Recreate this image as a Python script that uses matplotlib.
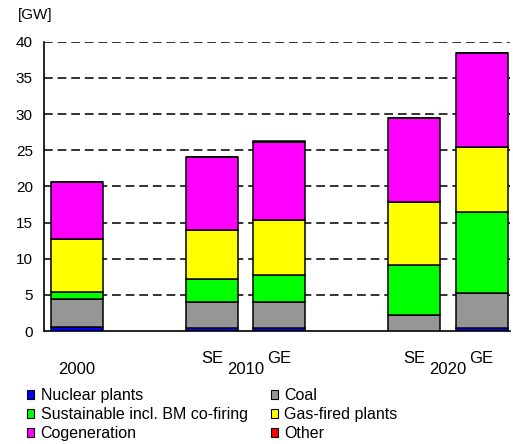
import matplotlib
matplotlib.use("Agg")
import matplotlib.pyplot as plt
from matplotlib.patches import Patch

plt.rcParams['font.family'] = ['Liberation Sans', 'DejaVu Sans']

# ---- data ----
categories = ["2000", "SE 2010", "GE 2010", "SE 2020", "GE 2020"]
scenarios = ["", "SE", "GE", "SE", "GE"]
years = ["2000", "2010", "2020"]
nuclear = [0.5, 0.4, 0.4, 0.0, 0.45]
coal = [3.9, 3.6, 3.6, 2.2, 4.85]
sustainable = [0.95, 3.2, 3.8, 6.95, 11.1]
gas = [7.35, 6.75, 7.5, 8.75, 9.0]
cogeneration = [7.9, 10.15, 10.8, 11.5, 13.0]
other = [0.0, 0.0, 0.2, 0.0, 0.0]
series_names = ["Nuclear plants", "Coal", "Sustainable incl. BM co-firing",
                "Gas-fired plants", "Cogeneration", "Other"]
yticks = [0, 5, 10, 15, 20, 25, 30, 35, 40]

# ---- layout ----
positions = [0, 2, 3, 5, 6]
year_pos = [0, 2.5, 5.5]
colors = ["#0000ff", "#969696", "#00ff00", "#ffff00", "#ff00ff", "#ff0000"]

fig = plt.figure(figsize=(5.13, 4.44), dpi=100)
ax = fig.add_axes([44/513, (444-331)/444, (510-44)/513, (331-41.7)/444])

series = [nuclear, coal, sustainable, gas, cogeneration, other]
bottom = [0.0]*len(categories)
for vals, col in zip(series, colors):
    ax.bar(positions, vals, width=0.77, bottom=bottom, color=col,
           edgecolor="black", linewidth=1.1, zorder=3)
    bottom = [b + v for b, v in zip(bottom, vals)]

ax.set_xlim(-0.49, 6.42)
ax.set_ylim(0, 40)
ax.set_yticks(yticks)
ax.set_yticklabels([str(t) for t in yticks], fontsize=11)
ax.tick_params(axis='y', length=0, pad=8)
ax.set_xticks([])
for y in yticks[1:]:
    ax.axhline(y, color="#333333", linewidth=1.4, linestyle=(0, (4.5, 2.5)), zorder=1)
for s in ["top", "right"]:
    ax.spines[s].set_visible(False)
ax.spines["left"].set_linewidth(1.2)
ax.spines["bottom"].set_linewidth(1.2)

# x labels
for p, s in zip(positions, scenarios):
    if s:
        ax.annotate(s, xy=(p, 0), xycoords=('data', 'axes fraction'),
                    xytext=(0, -19.5), textcoords='offset points',
                    ha='center', va='center', fontsize=12)
for p, yl in zip(year_pos, years):
    ax.annotate(yl, xy=(p, 0), xycoords=('data', 'axes fraction'),
                xytext=(0, -28), textcoords='offset points',
                ha='center', va='center', fontsize=12)

fig.text(35/513, 1 - 15/444, "[GW]", ha='center', va='center', fontsize=11)

# legend
handles = [Patch(facecolor=c, edgecolor="black", linewidth=0.8) for c in colors]
order = [0, 2, 4, 1, 3, 5]
fig.legend([handles[i] for i in order], [series_names[i] for i in order],
           ncol=2, loc='upper left', bbox_to_anchor=(27/513, 1 - 388/444),
           frameon=False, fontsize=11.5, handlelength=0.45, handleheight=0.45,
           handletextpad=0.4, labelspacing=0.25, columnspacing=1.45,
           borderaxespad=0, borderpad=0)

fig.savefig("out.png", dpi=100)
